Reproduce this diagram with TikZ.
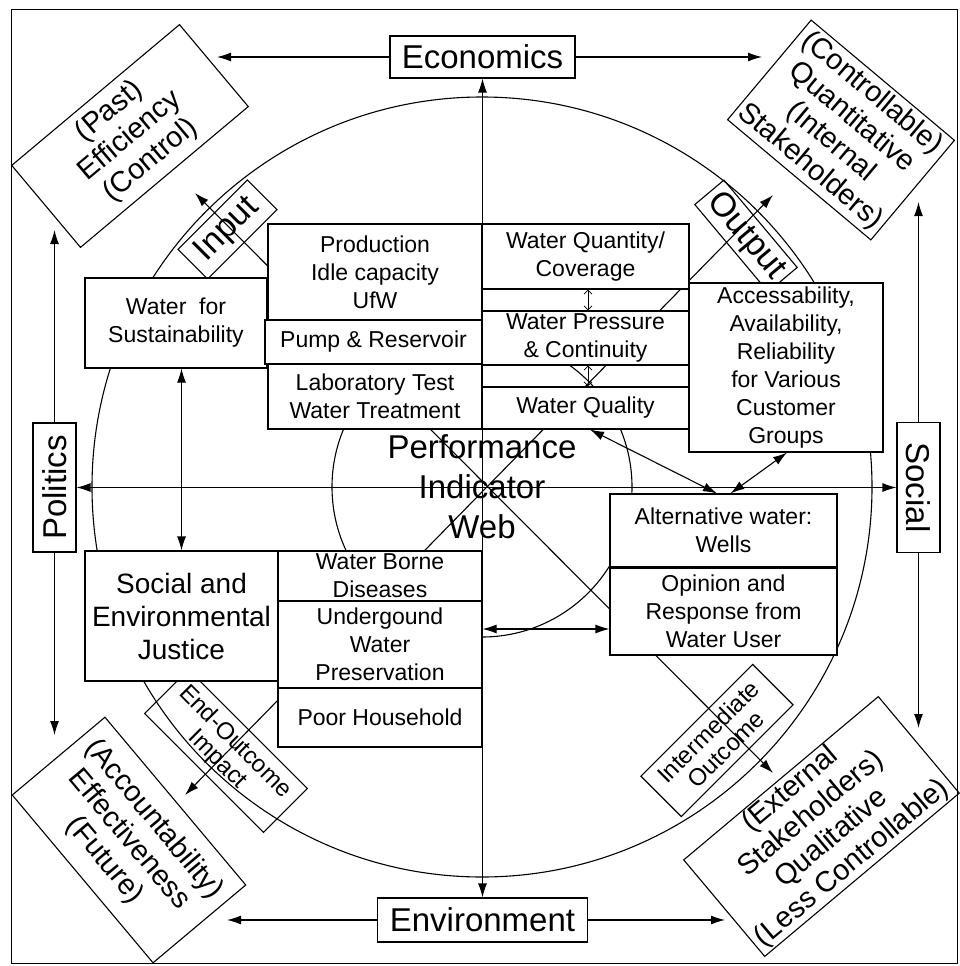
\documentclass[tikz,border=0pt]{standalone}
\usepackage{fontspec}
\setmainfont{Liberation Sans}
\newcommand*{\bigfont}{\fontsize{33}{40}\selectfont}
\newcommand*{\cornerfont}{\fontsize{29}{32}\selectfont}
\newcommand*{\midfont}{\fontsize{23}{28}\selectfont}
\newcommand*{\justfont}{\fontsize{28}{33}\selectfont}
\newcommand*{\tagfont}{\fontsize{34}{38}\selectfont}
\newcommand*{\slimfont}{\fontsize{24}{25}\selectfont}
\usepackage{tikz}
\usetikzlibrary{arrows.meta}
\usetikzlibrary{positioning}
\tikzstyle{base}=[x=1pt, y=-1pt, line width=1.1pt, >={Latex[length=14pt,width=9pt]}]
\tikzstyle{cell}=[draw, fill=white, align=center, inner sep=0pt, font=\midfont]
\tikzstyle{gap}=[draw, inner sep=0pt]
\tikzstyle{axis}=[draw, fill=white, align=center, inner sep=0pt, font=\bigfont]
\tikzstyle{corner}=[draw, align=center, inner sep=0pt, font=\cornerfont]
\tikzstyle{tag}=[draw, align=center, inner sep=0pt]
\tikzstyle{hop}=[<->, >={Straight Barb[length=4pt,width=8pt]}, line width=0.8pt]

\begin{document}
\begin{tikzpicture}[base]
    \useasboundingbox (0,0) rectangle (959,966);
    \draw [line width=0.8pt] (11,9) rectangle (957,963);
    % circles and diagonals
    \coordinate (c) at (482,487);
    \draw (c) circle [radius=390pt];
    \draw (c) circle [radius=150pt];
    \coordinate (nw) at (195,193);
    \coordinate (se) at (773,773);
    \coordinate (ne) at (773,195);
    \coordinate (sw) at (185,795);
    \draw [<->] (nw) -- (se);
    \draw [<->] (ne) -- (sw);
    % labels on the diagonals
    \node [tag, rotate=45, minimum width=98, minimum height=42, font=\tagfont] (inp) at (227.5,229.5) {Input};
    \node [tag, rotate=-50, minimum width=114, minimum height=38, font=\tagfont] (outp) at (746,236) {Output};
    \node [tag, rotate=-45, minimum width=168, minimum height=62, font=\slimfont] (endo) at (226,751) {End-Outcome\\Impact};
    \node [tag, rotate=45, minimum width=158, minimum height=57, font=\slimfont] (inter) at (717,740.5) {Intermediate\\Outcome};
    % axes
    \node [axis, minimum width=185, minimum height=42] (econ) at (482.5,57) {Economics};
    \node [axis, minimum width=210, minimum height=44] (env) at (482.5,920) {Environment};
    \node [axis, rotate=90, minimum width=129, minimum height=43] (pol) at (54.5,487.5) {Politics};
    \node [axis, rotate=-90, minimum width=130, minimum height=43] (soc) at (918.5,487.5) {Social};
    % corners
    \node [corner, rotate=40, minimum width=219, minimum height=107] (past) at (130,136) {(Past)\\Efficiency\\(Control)};
    \node [corner, rotate=-40, minimum width=187, minimum height=130] (ctrl) at (841,130) {(Controllable)\\Quantitative\\(Internal\\Stakeholders)};
    \node [corner, rotate=-50, minimum width=219, minimum height=121] (acct) at (129,840) {(Accountability)\\Effectiveness\\(Future)};
    \node [corner, rotate=40, minimum width=254, minimum height=126] (ext) at (821.5,826.5) {(External\\Stakeholders)\\Qualitative\\(Less Controllable)};
    \coordinate (econ-l) at (217,57);
    \coordinate (econ-r) at (762,57);
    \coordinate (env-l) at (227,920);
    \coordinate (env-r) at (725,920);
    \coordinate (pol-u) at (54.5,230);
    \coordinate (pol-d) at (54.5,735);
    \coordinate (soc-u) at (918.5,202);
    \coordinate (soc-d) at (918.5,728);
    \draw [->] (econ) -- (econ-l);
    \draw [->] (econ) -- (econ-r);
    \draw [->] (env) -- (env-l);
    \draw [->] (env) -- (env-r);
    \draw [->] (pol) -- (pol-u);
    \draw [->] (pol) -- (pol-d);
    \draw [->] (soc) -- (soc-u);
    \draw [->] (soc) -- (soc-d);
    \draw [<->] (econ) -- (env);
    \draw [<->] (pol) -- (soc);
    \node [font=\bigfont, align=center] (web) at (482,487) {Performance\\Indicator\\Web};
    % upper block
    \node [cell, minimum width=182, minimum height=90] (wsus) at (176,323) {Water~ for\\Sustainability};
    \node [cell, minimum width=214, minimum height=96] (prod) at (375,272) {Production\\Idle capacity\\UfW};
    \node [cell, minimum width=217, minimum height=44] (pump) at (373.5,342) {Pump \& Reservoir};
    \node [cell, minimum width=214, minimum height=65] (lab) at (375,396.5) {Laboratory Test\\Water Treatment};
    \node [cell, minimum width=207, minimum height=65] (quan) at (585.5,256.5) {Water Quantity/\\Coverage};
    \node [gap, minimum width=207, minimum height=22] (gapa) at (585.5,300) {};
    \node [cell, minimum width=207, minimum height=54] (pres) at (585.5,338) {Water Pressure\\\& Continuity};
    \node [gap, minimum width=207, minimum height=22] (gapb) at (585.5,376) {};
    \node [cell, minimum width=207, minimum height=42] (qual) at (585.5,408) {Water Quality};
    \node [cell, minimum width=194, minimum height=169] (acc) at (786,367.5) {Accessability,\\Availability,\\Reliability\\for Various\\Customer\\Groups};
    % lower block
    \node [cell, minimum width=193, minimum height=130, font=\justfont] (just) at (181.5,616) {Social and\\Environmental\\Justice};
    \node [cell, minimum width=204, minimum height=50] (borne) at (380,576) {Water Borne\\Diseases};
    \node [cell, minimum width=204, minimum height=87] (under) at (380,644.5) {Undergound\\Water\\Preservation};
    \node [cell, minimum width=204, minimum height=59] (poor) at (380,717.5) {Poor Household};
    \node [cell, minimum width=227, minimum height=73] (alt) at (723.5,530.5) {Alternative water:\\Wells};
    \node [cell, minimum width=227, minimum height=87] (opin) at (723.5,611.5) {Opinion and\\Response from\\Water User};
    \draw [line width=3pt] (alt.south west) -- (alt.south east);
    % links
    \draw [<->] (just.north |- wsus.south) -- (just.north);
    \draw [<->] ([yshift=15.5pt]under.east) -- ([yshift=-17.5pt]opin.west);
    \draw [<->] ([xshift=-6.5pt]alt.north) -- ([xshift=4.5pt]qual.south);
    \draw [<->] ([xshift=7pt]alt.north) -- ([xshift=1pt]acc.south);
    \draw [hop] ([xshift=2.5pt]quan.south) -- ([xshift=2.5pt]pres.north);
    \draw [hop] ([xshift=2.5pt]pres.south) -- ([xshift=2.5pt]qual.north);
\end{tikzpicture}
\end{document}
